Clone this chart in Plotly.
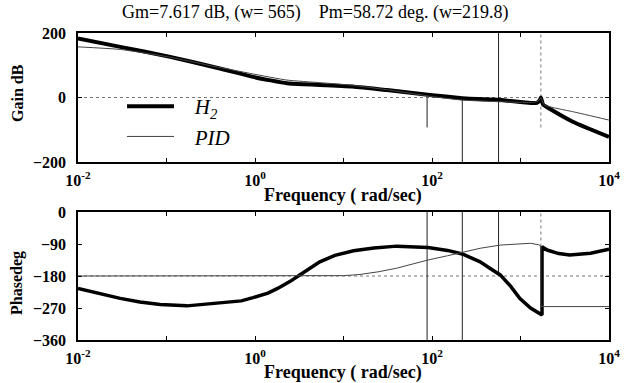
import plotly.graph_objects as go

# ---------------- data ----------------
# Gain plot, H2 controller loop
h2_gain_w  = [0.01, 0.03, 0.11, 0.4, 0.95, 1.5, 2.3, 3.5, 5.4, 12.6, 31, 95, 220, 330, 565, 1300, 1550, 1650, 1700, 1800, 2000, 3900, 10000]
h2_gain_db = [183, 157, 126, 90, 64, 53, 44, 41, 39, 34, 23, 8, -2, -5, -7, -17, -16, -8, 0, -22, -30, -75, -122]

# Gain plot, PID loop
pid_gain_w  = [0.01, 0.03, 0.11, 0.3, 0.95, 2.3, 5.4, 12.6, 31, 100, 220, 565, 1400, 1600, 1700, 1850, 2500, 3900, 10000]
pid_gain_db = [157, 149, 125, 100, 73, 54, 46, 38, 24, 3, -8, -13, -15, -10, 0, -23, -33, -44, -70]

# Phase plot, H2
h2_phase_w   = [0.01, 0.02, 0.03, 0.05, 0.085, 0.17, 0.4, 0.7, 0.95, 1.4, 1.8, 2.5, 3.2, 4.2, 5.4, 8, 13, 22, 40, 90, 150, 220, 350, 450, 590, 780, 980, 1300, 1750, 1750, 2000, 2700, 3600, 6200, 10000]
h2_phase_deg = [-215, -232, -243, -253, -260, -264, -257, -250, -241, -228, -215, -195, -177, -157, -140, -122, -109, -101, -96, -100, -108, -118, -140, -158, -177, -210, -243, -270, -290, -98, -107, -117, -121, -116, -105]

# Phase plot, PID
pid_phase_w   = [0.01, 10, 15, 25, 40, 60, 90, 150, 220, 350, 590, 1000, 1300, 1600, 1700, 1700, 10000]
pid_phase_deg = [-180, -179, -176, -168, -158, -146, -135, -123, -114, -102, -93, -89, -88, -92, -96, -266, -266]

# margin marker lines (frequency, low, high)
gain_mark_w    = [88, 220, 565, 1700]
gain_mark_lo   = [-93, -8, -200, -93]
gain_mark_hi   = [0, -200, 200, 200]
phase_mark_w   = [88, 220, 565, 1700]
phase_mark_lo  = [-360, -360, -180, -97]
phase_mark_hi  = [0, 0, 0, 0]
mark_dash      = ["solid", "solid", "solid", "dot"]

x_range_w = [0.01, 10000]
gain_ref = 0
phase_ref = -180

decade_ticks = [0.01, 0.1, 1, 10, 100, 1000, 10000]
decade_text  = ["10<sup>-2</sup>", "", "10<sup>0</sup>", "", "10<sup>2</sup>", "", "10<sup>4</sup>"]
gain_ticks   = [200, 0, -200]
phase_ticks  = [0, -90, -180, -270, -360]

title_text = "Gm=7.617 dB, (w= 565)\u00a0\u00a0\u00a0\u00a0Pm=58.72 deg. (w=219.8)"
xlabel = "Frequency ( rad/sec)"
legend_names = ["\u00a0\u00a0\u00a0<i>H<sub>2</sub></i>", "\u00a0\u00a0\u00a0<i>PID</i>"]

SERIF = "Liberation Serif"
fig = go.Figure()

# reference lines
fig.add_trace(go.Scatter(x=x_range_w, y=[gain_ref, gain_ref], mode="lines",
                         line=dict(color="#777", width=1, dash="dot"), showlegend=False,
                         xaxis="x", yaxis="y", hoverinfo="skip"))
fig.add_trace(go.Scatter(x=x_range_w, y=[phase_ref, phase_ref], mode="lines",
                         line=dict(color="#777", width=1, dash="dot"), showlegend=False,
                         xaxis="x2", yaxis="y2", hoverinfo="skip"))

for w, lo, hi, d in zip(gain_mark_w, gain_mark_lo, gain_mark_hi, mark_dash):
    fig.add_trace(go.Scatter(x=[w, w], y=[lo, hi], mode="lines",
                             line=dict(color="#222" if d == "solid" else "#777", width=1, dash=d),
                             showlegend=False, xaxis="x", yaxis="y", hoverinfo="skip"))
for w, lo, hi, d in zip(phase_mark_w, phase_mark_lo, phase_mark_hi, mark_dash):
    fig.add_trace(go.Scatter(x=[w, w], y=[lo, hi], mode="lines",
                             line=dict(color="#222" if d == "solid" else "#777", width=1, dash=d),
                             showlegend=False, xaxis="x2", yaxis="y2", hoverinfo="skip"))

# curves
fig.add_trace(go.Scatter(x=h2_gain_w, y=h2_gain_db, mode="lines", name=legend_names[0],
                         line=dict(color="black", width=4, shape="spline", smoothing=0.5),
                         xaxis="x", yaxis="y"))
fig.add_trace(go.Scatter(x=pid_gain_w, y=pid_gain_db, mode="lines", name=legend_names[1],
                         line=dict(color="#444", width=1, shape="spline", smoothing=0.5),
                         xaxis="x", yaxis="y"))
fig.add_trace(go.Scatter(x=h2_phase_w, y=h2_phase_deg, mode="lines", showlegend=False,
                         line=dict(color="black", width=3.5),
                         xaxis="x2", yaxis="y2"))
fig.add_trace(go.Scatter(x=pid_phase_w, y=pid_phase_deg, mode="lines", showlegend=False,
                         line=dict(color="#444", width=1),
                         xaxis="x2", yaxis="y2"))

W, H = 631, 383
xdom = [78 / W, 609 / W]
top_dom = [1 - 162 / H, 1 - 33 / H]
bot_dom = [1 - 340 / H, 1 - 212 / H]

tickfont = dict(family=SERIF, size=16, color="black", weight="bold")
common_x = dict(type="log", range=[-2, 4], domain=xdom, tickmode="array",
                tickvals=decade_ticks, ticktext=decade_text, ticks="inside", ticklen=4,
                tickcolor="black", showline=True, linecolor="black", linewidth=1.5,
                mirror="ticks", showgrid=False, zeroline=False, tickfont=tickfont,
                ticklabelstandoff=3, automargin=False)
common_y = dict(ticks="inside", ticklen=4, tickcolor="black", showline=True, linecolor="black",
                linewidth=1.5, mirror="ticks", showgrid=False, zeroline=False, tickfont=tickfont,
                ticklabelstandoff=7, tickmode="array", automargin=False)

ann_common = dict(xref="paper", yref="paper", xanchor="center", yanchor="middle", showarrow=False)

fig.update_layout(
    width=W, height=H, margin=dict(l=0, r=0, t=0, b=0),
    paper_bgcolor="white", plot_bgcolor="white",
    xaxis=dict(common_x, anchor="y"),
    yaxis=dict(common_y, domain=top_dom, range=[-200, 200], tickvals=gain_ticks, anchor="x"),
    xaxis2=dict(common_x, anchor="y2"),
    yaxis2=dict(common_y, domain=bot_dom, range=[-360, 0], tickvals=phase_ticks, anchor="x2"),
    showlegend=True,
    legend=dict(x=122 / W, y=1 - 86 / H, xanchor="left", yanchor="top",
                bgcolor="rgba(0,0,0,0)", font=dict(family=SERIF, size=21, color="black"),
                itemwidth=47, tracegroupgap=0),
    annotations=[
        dict(ann_common, text=title_text, x=315 / W, y=1 - 12 / H,
             font=dict(family=SERIF, size=18, color="black")),
        dict(ann_common, text="<b>" + xlabel + "</b>", x=343 / W, y=1 - 195 / H,
             font=dict(family=SERIF, size=18, color="black")),
        dict(ann_common, text="<b>" + xlabel + "</b>", x=343 / W, y=1 - 372 / H,
             font=dict(family=SERIF, size=18, color="black")),
        dict(ann_common, text="<b>Gain dB</b>", x=17 / W, y=1 - 93 / H, textangle=-90,
             font=dict(family=SERIF, size=16, color="black")),
        dict(ann_common, text="<b>Phasedeg</b>", x=17 / W, y=1 - 283 / H, textangle=-90,
             font=dict(family=SERIF, size=16, color="black")),
    ],
)

fig.write_html("out.html", config={"displayModeBar": False},
               post_script="document.body.style.margin='0px';")
